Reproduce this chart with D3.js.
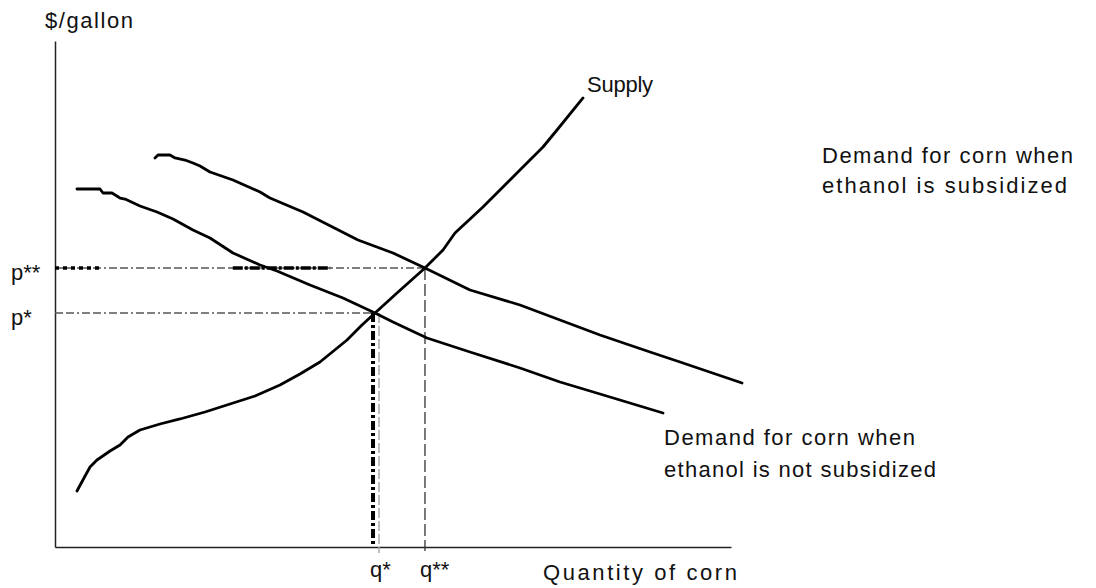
<!DOCTYPE html>
<html>
<head>
<meta charset="utf-8">
<script src="https://cdn.jsdelivr.net/npm/d3@7"></script>
<style>
  body { margin: 0; background: #fff; }
  svg text { font-family: "Liberation Sans", Arial, sans-serif; font-size: 22px; fill: #111; }
</style>
</head>
<body>
<div id="chart"></div>
<script>
// quantity and price are unitless, both axes run 0..100
const supplyQ = [3.25, 4.29, 5.18, 6.21, 8.14, 9.62, 10.8, 12.57, 15.53, 18.49, 22.19, 25.89, 29.59, 33.28, 36.24, 39.2, 43.2, 45.41, 47.34, 50.59, 54.73, 57.4, 59.17, 63.31, 68.34, 72.19, 74.26, 78.11];
const supplyP = [11.07, 13.64, 15.81, 17.19, 18.97, 20.16, 21.74, 23.12, 24.31, 25.3, 26.68, 28.26, 29.84, 32.02, 34.19, 36.56, 40.91, 43.87, 46.25, 50.2, 55.14, 58.7, 62.06, 67.19, 73.91, 79.05, 82.41, 88.74];

// demand for corn, ethanol not subsidized
const demandQ = [3.25, 6.66, 7.1, 8.43, 9.62, 10.36, 12.57, 15.09, 17.46, 20.41, 22.93, 26.33, 30.33, 32.84, 37.72, 42.6, 47.34, 50.0, 55.03, 61.39, 68.79, 74.7, 80.62, 89.94];
const demandP = [70.75, 70.75, 69.96, 69.96, 68.97, 68.77, 67.39, 66.21, 64.82, 62.65, 61.07, 58.1, 55.73, 54.55, 51.78, 49.21, 46.25, 44.47, 41.3, 38.54, 35.38, 32.61, 30.24, 26.48];

// demand for corn, ethanol subsidized
const demandSubQ = [14.79, 15.24, 17.01, 17.75, 19.23, 20.41, 21.45, 22.93, 26.33, 30.33, 31.8, 36.69, 44.82, 50.0, 54.73, 61.39, 68.79, 74.7, 80.62, 88.02, 92.46, 101.63];
const demandSubP = [76.88, 77.47, 77.47, 76.88, 76.48, 75.89, 75.3, 74.11, 72.53, 70.16, 68.97, 66.21, 60.67, 58.1, 55.14, 50.79, 47.83, 44.86, 41.9, 38.54, 36.56, 32.41];

const eqQ = [47.34, 54.73];
const eqP = [46.25, 55.14];
const qLabels = ["q*", "q**"];
const pLabels = ["p*", "p**"];

const width = 1096, height = 588;

const svg = d3.select("#chart").append("svg")
  .attr("width", width)
  .attr("height", height)
  .style("background", "#fff");

const x = d3.scaleLinear().domain([0, 100]).range([55, 731]);
const y = d3.scaleLinear().domain([0, 100]).range([547, 41]);

const zip = (a, b) => a.map((v, i) => [v, b[i]]);
const line = d3.line().x(d => x(d[0])).y(d => y(d[1]));

// axes, no ticks
svg.append("g")
  .attr("transform", `translate(0,${y(0)})`)
  .call(d3.axisBottom(x).tickValues([]).tickSizeOuter(0));
svg.append("g")
  .attr("transform", `translate(${x(0)},0)`)
  .call(d3.axisLeft(y).tickValues([]).tickSizeOuter(0));
svg.selectAll(".domain").attr("stroke", "#222").attr("stroke-width", 1.5);

// guide lines to the two equilibria
const guides = svg.append("g").attr("fill", "none");
eqP.forEach((p, i) => {
  guides.append("line")
    .attr("x1", x(0)).attr("x2", x(eqQ[i]))
    .attr("y1", y(p)).attr("y2", y(p))
    .attr("stroke", "#555").attr("stroke-width", 1.3)
    .attr("stroke-dasharray", "8,3,8,3,2,3");
});

// heavier pieces printed over the p** line
const heavyP = [[0, 6.7, "4,4"], [26.3, 40.7, "10,2,3,2"]];
heavyP.forEach(([a, b, dash]) => {
  guides.append("line")
    .attr("x1", x(a)).attr("x2", x(b))
    .attr("y1", y(eqP[1])).attr("y2", y(eqP[1]))
    .attr("stroke", "#000").attr("stroke-width", 3.5)
    .attr("stroke-dasharray", dash);
});

// q* : thick black dashes plus a faint grey twin
guides.append("line")
  .attr("x1", x(eqQ[0]) - 2).attr("x2", x(eqQ[0]) - 2)
  .attr("y1", y(eqP[0])).attr("y2", y(0))
  .attr("stroke", "#000").attr("stroke-width", 4)
  .attr("stroke-dasharray", "9,3,3,3");
guides.append("line")
  .attr("x1", x(eqQ[0]) + 4).attr("x2", x(eqQ[0]) + 4)
  .attr("y1", y(eqP[0])).attr("y2", y(0) + 6)
  .attr("stroke", "#aaa").attr("stroke-width", 1.5)
  .attr("stroke-dasharray", "10,3");

// q**
guides.append("line")
  .attr("x1", x(eqQ[1])).attr("x2", x(eqQ[1]))
  .attr("y1", y(eqP[1])).attr("y2", y(0) + 4)
  .attr("stroke", "#333").attr("stroke-width", 1.3)
  .attr("stroke-dasharray", "12,4");

// curves
const curves = [zip(supplyQ, supplyP), zip(demandQ, demandP), zip(demandSubQ, demandSubP)];
svg.append("g").selectAll("path")
  .data(curves)
  .join("path")
  .attr("d", line)
  .attr("fill", "none")
  .attr("stroke", "#000")
  .attr("stroke-width", 2.8)
  .attr("stroke-linejoin", "round")
  .attr("stroke-linecap", "round");

// labels
const label = (txt, px, py, len) => {
  const t = svg.append("text").attr("x", px).attr("y", py).text(txt);
  if (len) t.attr("textLength", len).attr("lengthAdjust", "spacing");
  return t;
};

label("$/gallon", 45, 28, 88);
label("Supply", 587, 92, 66);
label("Quantity of corn", 543, 580, 194);

pLabels.forEach((t, i) => label(t, 11, y(eqP[i]) + 12));
qLabels.forEach((t, i) => label(t, x(eqQ[i]) - 5, 577));

label("Demand for corn when", 822, 163, 251);
label("ethanol is subsidized", 822, 193, 245);
label("Demand for corn when", 664, 445, 251);
label("ethanol is not subsidized", 664, 477, 272);
</script>
</body>
</html>
